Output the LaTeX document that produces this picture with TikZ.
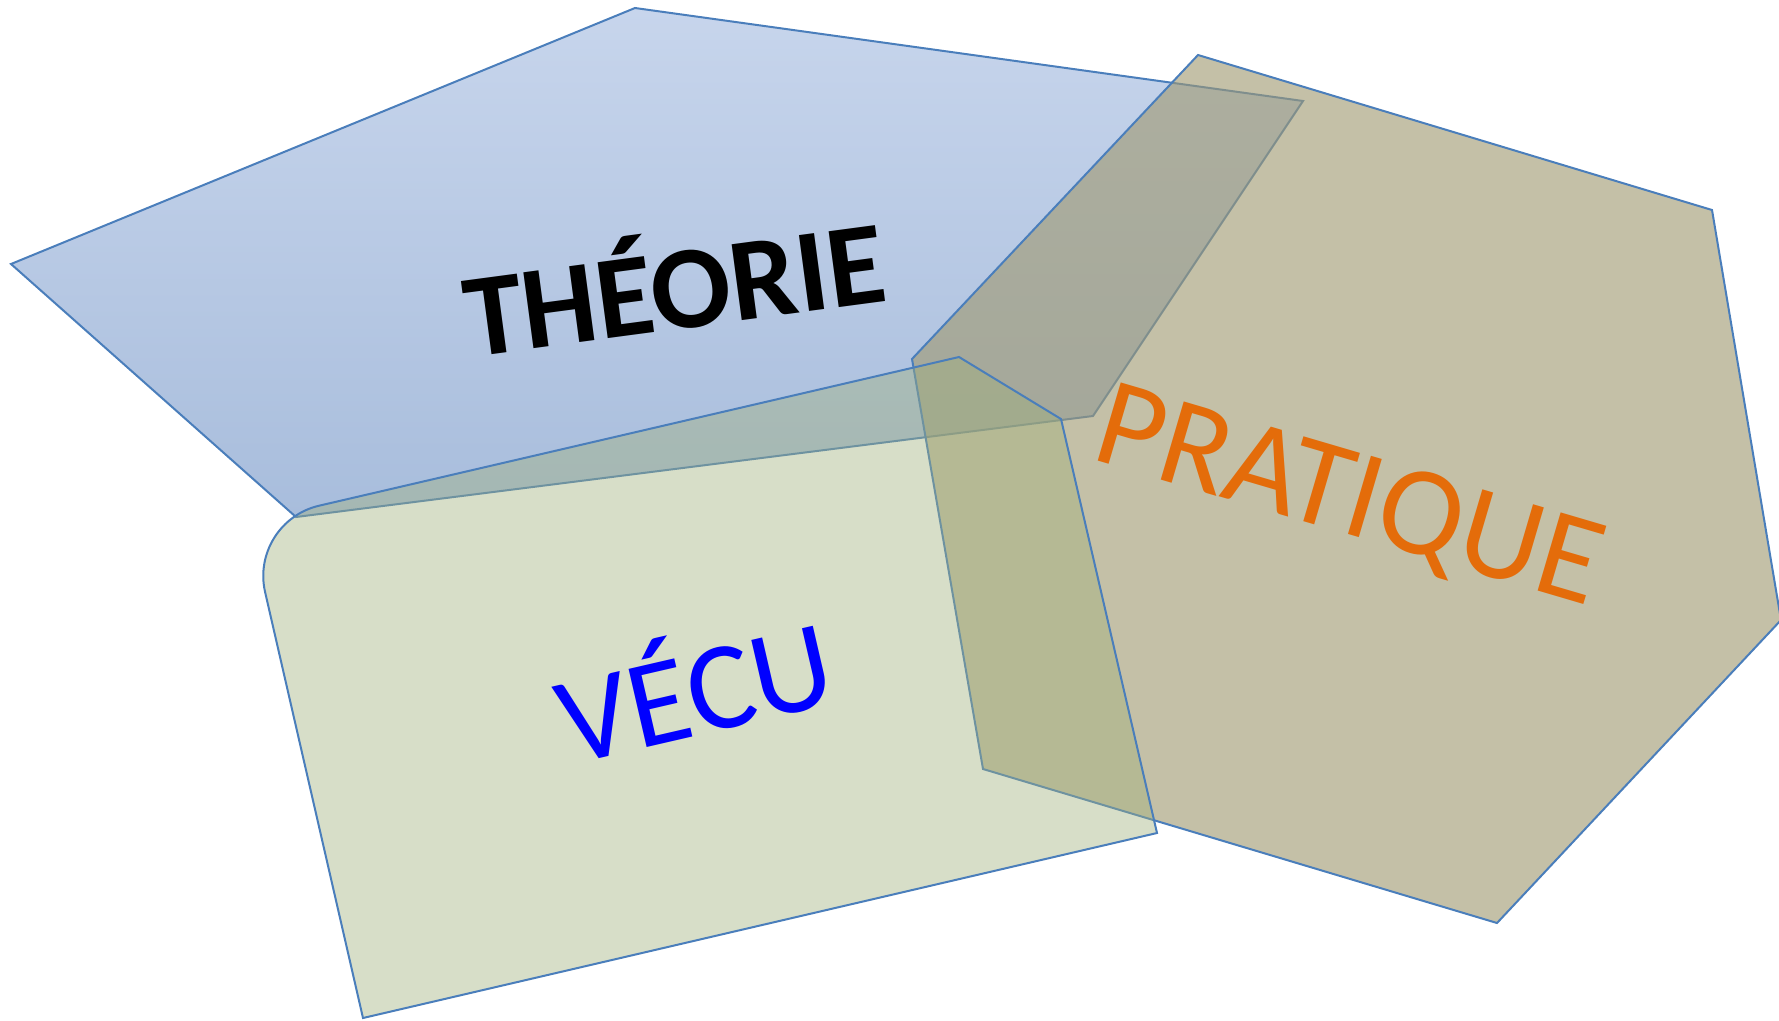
\documentclass[tikz,border=0pt]{standalone}
\usepackage{fontspec}
\setmainfont{Carlito}
\definecolor{edgeblue}{RGB}{74,126,187}
\definecolor{bluetop}{RGB}{199,213,236}
\definecolor{bluebot}{RGB}{168,189,220}
\definecolor{hexfill}{RGB}{160,153,113}
\definecolor{greenfill}{RGB}{160,176,124}
\definecolor{pratorange}{RGB}{228,108,10}
\definecolor{vecublue}{RGB}{0,0,255}
\tikzset{
  shapeedge/.style={draw=edgeblue, line width=2pt, line join=miter},
}
\begin{document}
\begin{tikzpicture}[x=1pt,y=-1pt]
\useasboundingbox (0,0) rectangle (1779,1020);
% Blue pentagon (THEORIE)
\shade[top color=bluetop, bottom color=bluebot, shading angle=0]
  (11,264) -- (635,8) -- (1303,101) -- (1093,416) -- (296,517) -- cycle;
\draw[shapeedge]
  (11,264) -- (635,8) -- (1303,101) -- (1093,416) -- (296,517) -- cycle;
% Hexagon (PRATIQUE)
\draw[shapeedge, fill=hexfill, fill opacity=0.62]
  (1198,55) -- (1712,210) -- (1781,620) -- (1497,923) -- (983,769) -- (912,359) -- cycle;
% Green shape (VECU)
\draw[shapeedge, fill=greenfill, fill opacity=0.42]
  (319.1,505.7) -- (959,357) -- (1061,419) -- (1157,833) -- (363,1018) -- (265.1,592.1)
  .. controls (256.2,553.4) and (280.4,514.7) .. (319.1,505.7) -- cycle;
% Texts
\node[text=black, font=\bfseries\fontsize{118}{122}\selectfont, rotate=7.6, anchor=base]
  (theorie) at (680,329) {THÉORIE};
\node[text=pratorange, font=\fontsize{127}{130}\selectfont, anchor=base, rotate=-16.4]
  (pratique) at (1339,532) {PRATIQUE};
\node[text=vecublue, font=\fontsize{125}{128}\selectfont, rotate=13, anchor=base]
  (vecu) at (705,734) {VÉCU};
\end{tikzpicture}
\end{document}
